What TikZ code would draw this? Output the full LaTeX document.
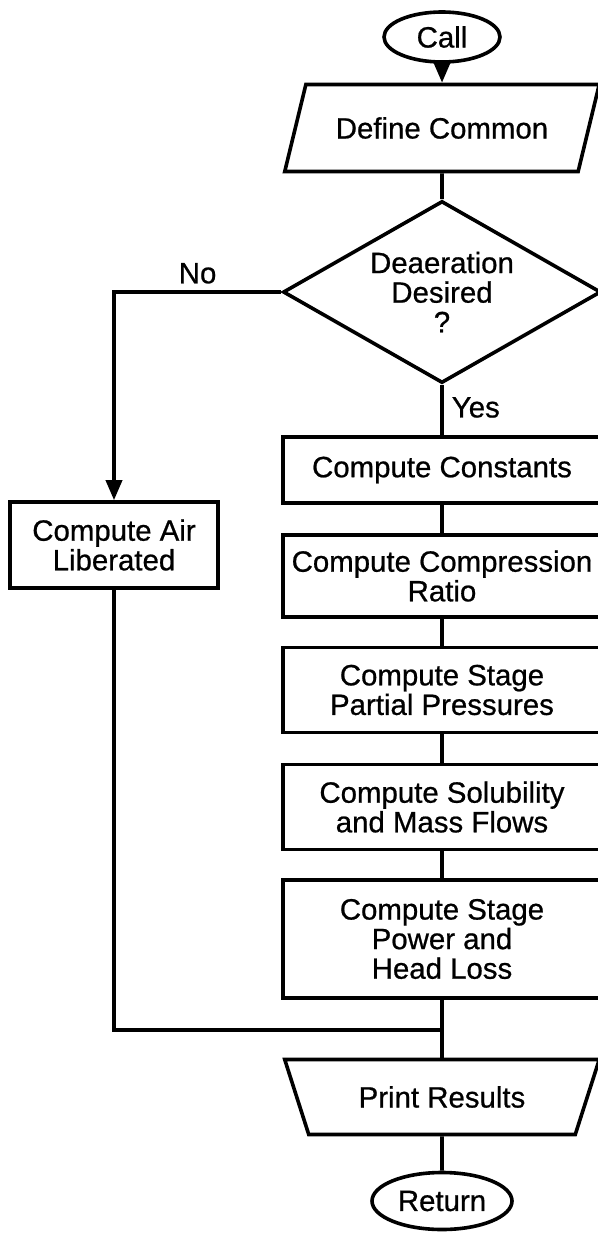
\documentclass[tikz,border=0pt]{standalone}
\usepackage{fontspec}
\setmainfont{Liberation Sans}[FakeBold=0.7]
\usetikzlibrary{shapes.geometric,arrows.meta}

\begin{document}
\begin{tikzpicture}[x=0.5pt, y=-0.5pt,
            line width=1.8pt,
            every node/.style={font=\fontsize{14.7}{14.8}\selectfont, align=center},
            terminal/.style={draw, ellipse, inner sep=1pt},
            process/.style={draw, rectangle, minimum width=159pt, inner sep=2pt},
            io/.style={draw, trapezium, trapezium stretches=true, inner sep=2pt},
            decision/.style={draw, diamond, shape aspect=1.75, inner sep=0pt},
            flowarrow/.style={-{Triangle[length=10pt, width=8pt]}}
        ]
            \useasboundingbox (0,0) rectangle (598,1237);

            % Start
            \node (call) at (442,37) [terminal, minimum width=58pt, minimum height=25pt] {Call};
            \node (common) at (442,128) [io, trapezium left angle=60, trapezium right angle=120,
                minimum width=157.5pt, minimum height=43.5pt] {Define Common};
            \draw [flowarrow] (call) -- (common);

            % Decision
            \node (deaer) at (442,292) [decision, minimum width=159pt, minimum height=91pt] {Deaeration\\Desired\\?};
            \draw (common) -- (deaer);

            % Yes branch
            \node (const) at (442,470) [process, minimum height=33pt] {Compute Constants};
            \node (ratio) at (442,576) [process, minimum height=41pt] {Compute Compression\\Ratio};
            \node (partial) at (442,690) [process, minimum height=42.5pt] {Compute Stage\\Partial Pressures};
            \node (solub) at (442,807) [process, minimum height=42.5pt] {Compute Solubility\\and Mass Flows};
            \node (power) at (442,939) [process, minimum height=59pt] {Compute Stage\\Power and\\Head Loss};
            \draw (deaer) -- (const) node [pos=0.45, right, inner sep=4pt] {Yes};
            \draw (const) -- (ratio);
            \draw (ratio) -- (partial);
            \draw (partial) -- (solub);
            \draw (solub) -- (power);

            % No branch
            \node (air) at (114,545) [process, minimum width=104pt, minimum height=43pt] {Compute Air\\Liberated};
            \draw [flowarrow] (deaer.west) -| (air.north) node [pos=0.25, above] {No};

            % Merge and output
            \coordinate (join) at (442,1030);
            \draw (air) |- (join);
            \node (print) at (442,1097) [io, trapezium left angle=118, trapezium right angle=118,
                minimum width=157.5pt, minimum height=37.5pt] {Print Results};
            \draw (power) -- (print);
            \node (ret) at (442,1201) [terminal, minimum width=70pt, minimum height=28.5pt] {Return};
            \draw (print) -- (ret);
        \end{tikzpicture}
\end{document}
